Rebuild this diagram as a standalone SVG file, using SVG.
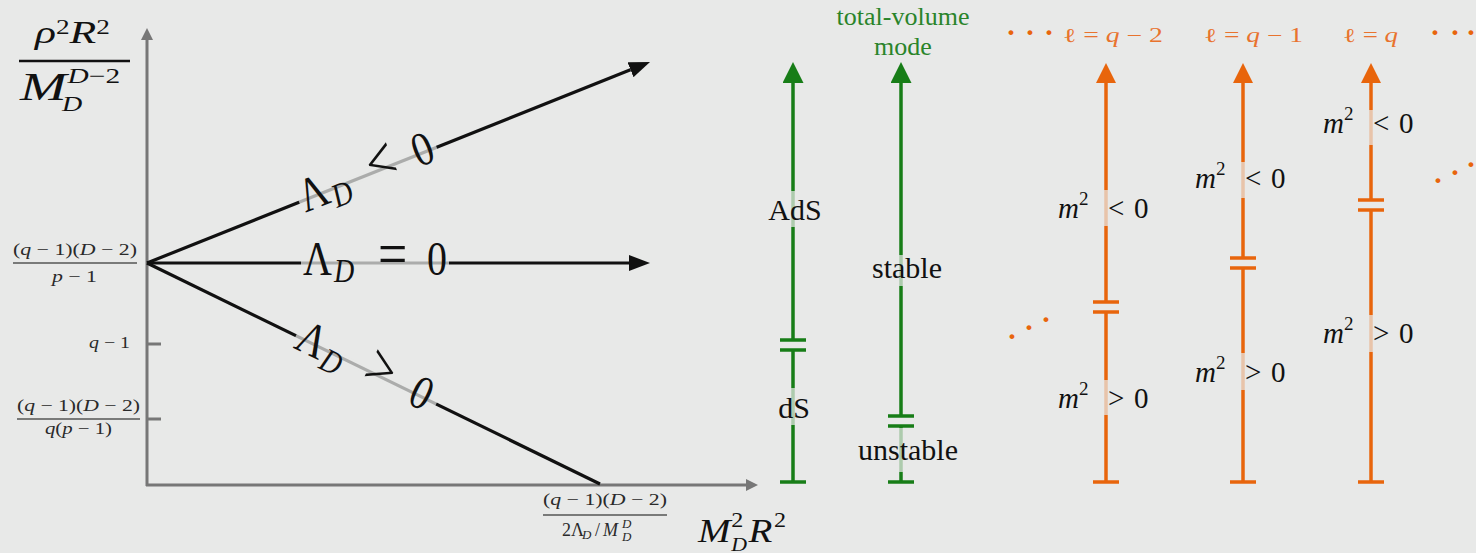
<svg xmlns="http://www.w3.org/2000/svg" width="1476" height="553" viewBox="0 0 1476 553">
<defs>
<style>
.m{font-family:"Liberation Serif",serif;}
.i{font-style:italic;font-family:"Liberation Serif",serif;}
.ax{stroke:#777;stroke-width:3;fill:none;}
.bk{stroke:#111;stroke-width:3.2;fill:none;}
.gr{stroke:#177d17;stroke-width:3.5;fill:none;}
.or{stroke:#e8650c;stroke-width:3.5;fill:none;}
.hl{fill:#e8e9e8;fill-opacity:0.72;}
.lbl{font-size:30px;fill:#111;}
.ml{font-size:29px;fill:#111;}
.tick{font-size:17px;fill:#2a2a2a;}
.fb{stroke:#555;stroke-width:1.4;}
.ot{fill:#e8732e;font-size:20px;}
.dots{fill:#e8650c;font-size:30px;font-weight:bold;text-anchor:middle;}
.gt{fill:#2a842a;font-size:26px;text-anchor:middle;}
.big{font-size:40px;fill:#111;}
.op{font-size:52px;}
</style>
<marker id="aGray" markerUnits="userSpaceOnUse" markerWidth="12" markerHeight="12" refX="0" refY="6" orient="auto" viewBox="0 0 12 12"><path d="M0,0 L12,6 L0,12 z" fill="#777"/></marker>
<marker id="aBlk" markerUnits="userSpaceOnUse" markerWidth="21" markerHeight="16" refX="0" refY="8" orient="auto" viewBox="0 0 21 16"><path d="M0,0 L21,8 L0,16 z" fill="#111"/></marker>
<marker id="aGr" markerUnits="userSpaceOnUse" markerWidth="21" markerHeight="21" refX="0" refY="10.5" orient="auto" viewBox="0 0 21 21"><path d="M0,0 L21,10.5 L0,21 z" fill="#177d17"/></marker>
<marker id="aOr" markerUnits="userSpaceOnUse" markerWidth="20" markerHeight="20" refX="0" refY="10" orient="auto" viewBox="0 0 20 20"><path d="M0,0 L20,10 L0,20 z" fill="#e8650c"/></marker>
</defs>
<rect x="0" y="0" width="1476" height="553" fill="#e8e9e8"/>

<g id="connectors">
  <line class="ax" x1="147" y1="486" x2="147" y2="40" marker-end="url(#aGray)"/>
  <line class="ax" x1="146" y1="485" x2="746" y2="485" marker-end="url(#aGray)"/>
  <line class="ax" x1="147" y1="344" x2="161" y2="344"/>
  <line class="ax" x1="147" y1="419" x2="161" y2="419"/>
  <line class="bk" x1="147" y1="263" x2="630.5" y2="69.8" marker-end="url(#aBlk)"/>
  <line class="bk" x1="147" y1="263" x2="629" y2="263" marker-end="url(#aBlk)"/>
  <line class="bk" x1="147" y1="263" x2="600" y2="484"/>
</g>

<g id="axis-label-y">
  <text class="m" font-size="32" fill="#111" x="35" y="43" textLength="75" lengthAdjust="spacingAndGlyphs"><tspan class="i">ρ</tspan><tspan font-size="20" dy="-9">2</tspan><tspan class="i" dy="9">R</tspan><tspan font-size="20" dy="-9">2</tspan></text>
  <line x1="19" y1="61" x2="130" y2="61" stroke="#111" stroke-width="2.5"/>
  <g transform="translate(20,100) scale(1.4,1)">
    <text class="m" fill="#111"><tspan class="i" font-size="40" x="0" y="0">M</tspan><tspan class="i" font-size="20" x="30" y="11">D</tspan><tspan font-size="21" x="34" y="-17"><tspan class="i">D</tspan>−2</tspan></text>
  </g>
</g>

<g id="tick-labels">
  <text class="m tick" x="13" y="255" textLength="124" lengthAdjust="spacingAndGlyphs">(<tspan class="i">q</tspan> − 1)(<tspan class="i">D</tspan> − 2)</text>
  <line class="fb" x1="13" y1="263" x2="137" y2="263"/>
  <text class="m tick" x="52" y="282" textLength="45" lengthAdjust="spacingAndGlyphs"><tspan class="i">p</tspan> − 1</text>
  <text class="m tick" x="89" y="348" textLength="41" lengthAdjust="spacingAndGlyphs"><tspan class="i">q</tspan> − 1</text>
  <text class="m tick" x="17" y="411" textLength="123" lengthAdjust="spacingAndGlyphs">(<tspan class="i">q</tspan> − 1)(<tspan class="i">D</tspan> − 2)</text>
  <line class="fb" x1="17" y1="419" x2="140" y2="419"/>
  <text class="m tick" x="45" y="434" textLength="67" lengthAdjust="spacingAndGlyphs"><tspan class="i">q</tspan>(<tspan class="i">p</tspan> − 1)</text>
</g>

<g id="axis-label-x">
  <text class="m tick" x="543" y="505" textLength="124" lengthAdjust="spacingAndGlyphs">(<tspan class="i">q</tspan> − 1)(<tspan class="i">D</tspan> − 2)</text>
  <line class="fb" x1="543" y1="515" x2="667" y2="515"/>
  <text class="m" fill="#2a2a2a" font-size="18"><tspan x="562" y="536">2Λ</tspan><tspan class="i" font-size="13" x="582" y="539">D</tspan><tspan x="595" y="536">/</tspan><tspan class="i" x="603" y="536">M</tspan><tspan class="i" font-size="13" x="622" y="528">D</tspan><tspan class="i" font-size="13" x="622" y="541">D</tspan></text>
  <g transform="translate(698,542) scale(1.15,1)">
    <text class="m" fill="#111"><tspan class="i" font-size="34" x="0" y="0">M</tspan><tspan font-size="21" x="29" y="-15">2</tspan><tspan class="i" font-size="19" x="29" y="9">D</tspan><tspan class="i" font-size="34" x="44" y="0">R</tspan><tspan font-size="21" x="66" y="-15">2</tspan></text>
  </g>
</g>

<g id="label-neg" transform="translate(368,175) rotate(-21.78)">
  <rect class="hl" x="-74" y="-3.5" width="148" height="7"/>
  <text class="m big" transform="scale(1,1.2)" y="10"><tspan x="-72">Λ</tspan><tspan class="i" font-size="28" x="-41" dy="6">D</tspan><tspan class="op" x="2" dy="-6">&lt;</tspan><tspan x="50">0</tspan></text>
</g>
<g id="label-zero" transform="translate(375,263)">
  <rect class="hl" x="-74" y="-3.5" width="148" height="7"/>
  <text class="m big" transform="scale(1,1.2)" y="10"><tspan x="-72">Λ</tspan><tspan class="i" font-size="28" x="-41" dy="6">D</tspan><tspan class="op" x="3" dy="-6">=</tspan><tspan x="52">0</tspan></text>
</g>
<g id="label-pos" transform="translate(366,370) rotate(26.0)">
  <rect class="hl" x="-78" y="-3.5" width="156" height="7"/>
  <text class="m big" transform="scale(1,1.2)" y="10"><tspan x="-76">Λ</tspan><tspan class="i" font-size="28" x="-45" dy="6">D</tspan><tspan class="op" x="-1" dy="-6">&gt;</tspan><tspan x="50">0</tspan></text>
</g>

<g id="bar-ads">
  <path class="gr" d="M780,482 H806 M793,482 V350 M780,350 H806 M780,340 H806 M793,340 V83" marker-end="url(#aGr)"/>
  <rect class="hl" x="789" y="191" width="8" height="36"/>
  <rect class="hl" x="789" y="388" width="8" height="37"/>
  <text class="m lbl" x="795" y="220" text-anchor="middle">AdS</text>
  <text class="m lbl" x="794" y="418" text-anchor="middle">dS</text>
</g>

<g id="bar-volume">
  <text class="m gt" x="903" y="25">total-volume</text>
  <text class="m gt" x="903" y="55">mode</text>
  <path class="gr" d="M888,482 H914 M901,482 V426 M888,426 H914 M888,416 H914 M901,416 V83" marker-end="url(#aGr)"/>
  <rect class="hl" x="897" y="255" width="8" height="31"/>
  <rect class="hl" x="897" y="428" width="8" height="44"/>
  <text class="m lbl" x="907" y="278" text-anchor="middle">stable</text>
  <text class="m lbl" x="908" y="460" text-anchor="middle">unstable</text>
</g>

<g id="header-dots">
  <text class="m dots" x="1011 1030 1049" y="42">···</text>
  <text class="m dots" x="1435 1455 1471" y="42">···</text>
  <text class="m dots" x="1012 1029 1046" y="346 337 329">···</text>
  <text class="m dots" x="1438 1455 1471" y="190 182 174">···</text>
</g>

<g id="bar-l-q-2">
  <text class="m ot" x="1063" y="42" textLength="100" lengthAdjust="spacingAndGlyphs">ℓ = <tspan class="i">q</tspan> − 2</text>
  <path class="or" d="M1093,482 H1119 M1106,482 V312 M1093,312 H1119 M1093,302 H1119 M1106,302 V83" marker-end="url(#aOr)"/>
  <rect class="hl" x="1102" y="190" width="8" height="36"/>
  <rect class="hl" x="1102" y="380" width="8" height="35"/>
  <text class="m ml"><tspan class="i" x="1058" y="218">m</tspan><tspan font-size="19" dy="-13">2</tspan><tspan x="1108" dy="13">&lt;</tspan><tspan x="1134">0</tspan></text>
  <text class="m ml"><tspan class="i" x="1058" y="408">m</tspan><tspan font-size="19" dy="-13">2</tspan><tspan x="1108" dy="13">&gt;</tspan><tspan x="1134">0</tspan></text>
</g>

<g id="bar-l-q-1">
  <text class="m ot" x="1204" y="42" textLength="99" lengthAdjust="spacingAndGlyphs">ℓ = <tspan class="i">q</tspan> − 1</text>
  <path class="or" d="M1230,482 H1256 M1243,482 V268 M1230,268 H1256 M1230,258 H1256 M1243,258 V83" marker-end="url(#aOr)"/>
  <rect class="hl" x="1239" y="162" width="8" height="36"/>
  <rect class="hl" x="1239" y="353" width="8" height="37"/>
  <text class="m ml"><tspan class="i" x="1195" y="188">m</tspan><tspan font-size="19" dy="-13">2</tspan><tspan x="1245" dy="13">&lt;</tspan><tspan x="1271">0</tspan></text>
  <text class="m ml"><tspan class="i" x="1195" y="382">m</tspan><tspan font-size="19" dy="-13">2</tspan><tspan x="1245" dy="13">&gt;</tspan><tspan x="1271">0</tspan></text>
</g>

<g id="bar-l-q">
  <text class="m ot" x="1343" y="42" textLength="55" lengthAdjust="spacingAndGlyphs">ℓ = <tspan class="i">q</tspan></text>
  <path class="or" d="M1358,482 H1384 M1371,482 V210 M1358,210 H1384 M1358,200 H1384 M1371,200 V83" marker-end="url(#aOr)"/>
  <rect class="hl" x="1367" y="110" width="8" height="35"/>
  <rect class="hl" x="1367" y="315" width="8" height="37"/>
  <text class="m ml"><tspan class="i" x="1323" y="133">m</tspan><tspan font-size="19" dy="-13">2</tspan><tspan x="1373" dy="13">&lt;</tspan><tspan x="1399">0</tspan></text>
  <text class="m ml"><tspan class="i" x="1323" y="343">m</tspan><tspan font-size="19" dy="-13">2</tspan><tspan x="1373" dy="13">&gt;</tspan><tspan x="1399">0</tspan></text>
</g>
</svg>
